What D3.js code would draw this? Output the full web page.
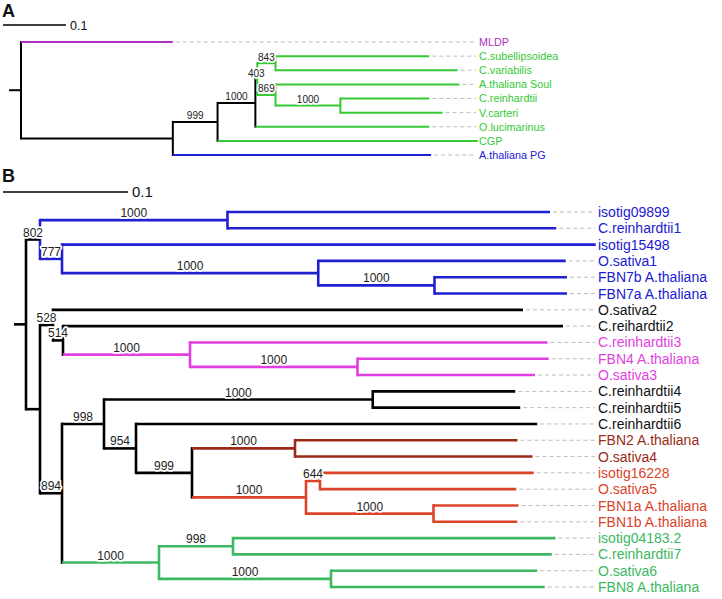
<!DOCTYPE html>
<html lang="en">
<head>
<meta charset="utf-8">
<title>Fibrillin trees</title>
<style>
    body { margin: 0; background: #fff; }
    svg { display: block; font-family: "Liberation Sans", Arial, sans-serif; }
    .dash { stroke: #bdbdbd; stroke-width: 1; stroke-dasharray: 4,3; fill: none; }
    .support { fill: #222; stroke: #fff; stroke-width: 3.5px; stroke-linejoin: round; paint-order: stroke; text-anchor: middle; }
</style>
</head>
<body>
<svg id="chart" width="722" height="599"></svg>
<script src="https://d3js.org/d3.v7.min.js"></script>
<script>
// ---- panel A: node id, parent, branch length, bootstrap (listed top to bottom)
const idA = ["rootA", "MLDP", "a1", "a999", "A.thaliana PG", "a1000", "CGP", "a403", "O.lucimarinus",
    "a843", "a869", "C.subellipsoidea", "C.variabilis", "A.thaliana Soul", "a1000b", "C.reinhardtii", "V.carteri"];
const parentA = ["", "rootA", "rootA", "a1", "a1", "a999", "a999", "a1000", "a1000",
    "a403", "a403", "a843", "a843", "a869", "a869", "a1000b", "a1000b"];
const lengthA = [0, 0.241, 0.241, 0.071, 0.410, 0.060, 0.413, 0.003, 0.276,
    0.029, 0.029, 0.244, 0.289, 0.292, 0.103, 0.141, 0.162];
const supportA = [null, null, null, 999, null, 1000, null, 403, null,
    843, 869, null, null, null, 1000, null, null];

// ---- panel B
const idB = ["rootB", "b802", "bX", "b1000a", "b777", "isotig09899", "C.reinhardtii1", "isotig15498", "b1000b",
    "O.sativa1", "b1000c", "FBN7b A.thaliana", "FBN7a A.thaliana", "b528", "b894", "O.sativa2", "b514",
    "C.reihardtii2", "b1000d", "C.reinhardtii3", "b1000e", "FBN4 A.thaliana", "O.sativa3", "b998a", "b1000j",
    "b1000f", "b954", "C.reinhardtii4", "C.reinhardtii5", "C.reinhardtii6", "b999", "b1000g", "b1000h",
    "FBN2 A.thaliana", "O.sativa4", "b644", "b1000i", "isotig16228", "O.sativa5", "FBN1a A.thaliana",
    "FBN1b A.thaliana", "b998b", "b1000k", "isotig04183.2", "C.reinhardtii7", "O.sativa6", "FBN8 A.thaliana"];
const parentB = ["", "rootB", "rootB", "b802", "b802", "b1000a", "b1000a", "b777", "b777",
    "b1000b", "b1000b", "b1000c", "b1000c", "bX", "bX", "b528", "b528",
    "b514", "b514", "b1000d", "b1000d", "b1000e", "b1000e", "b894", "b894",
    "b998a", "b998a", "b1000f", "b1000f", "b954", "b954", "b999", "b999",
    "b1000g", "b1000g", "b1000h", "b1000h", "b644", "b644", "b1000i",
    "b1000i", "b1000j", "b1000j", "b998b", "b998b", "b1000k", "b1000k"];
const lengthB = [0, 0.0112, 0.0112, 0.150, 0.0176, 0.258, 0.263, 0.427, 0.205,
    0.198, 0.093, 0.106, 0.106, 0.0104, 0.0176, 0.376, 0.008,
    0.400, 0.1016, 0.286, 0.134, 0.153, 0.142, 0.0336, 0.0776,
    0.215, 0.0256, 0.114, 0.118, 0.321, 0.0448, 0.0824, 0.0912,
    0.178, 0.190, 0.0112, 0.102, 0.171, 0.157, 0.068,
    0.067, 0.0592, 0.1376, 0.258, 0.255, 0.165, 0.171];
const supportB = [null, 802, null, 1000, 777, null, null, null, 1000,
    null, 1000, null, null, 528, 894, null, 514,
    null, 1000, null, 1000, null, null, 998, 1000,
    1000, 954, null, null, null, 999, 1000, 1000,
    null, null, 644, 1000, null, null, null,
    null, 998, 1000, null, null, null, null];

const blue = "#2020d2", purple = "#b02fc0", greenA = "#36c936", pink = "#e23fe2",
    darkRed = "#9c2a18", red = "#dc442a", greenB = "#3cb862";
// clade colours, inherited downwards
const colorA = {"MLDP": purple, "a403": greenA, "O.lucimarinus": greenA, "CGP": greenA, "A.thaliana PG": blue};
const colorB = {"b1000a": blue, "b777": blue, "b1000d": pink, "b1000g": darkRed, "b1000h": red, "b1000j": greenB};
const vertColorB = {"b802": blue};

const svg = d3.select("#chart");

function drawTree(ids, parents, lengths, supports, opt)
{
    const rows = ids.map((id, i) => ({id: id, parent: parents[i], len: lengths[i], sup: supports[i]}));
    const root = d3.stratify().id(d => d.id).parentId(d => d.parent || null)(rows);
    root.eachBefore(d =>
    {
        d.dist = d.parent ? d.parent.dist + d.data.len : 0;
        d.color = opt.colors[d.id] || (d.parent ? d.parent.color : "#000");
    });

    const x = d3.scaleLinear().domain([0, 0.1]).range([opt.rootX, opt.rootX + opt.unit]);
    const leaves = root.leaves();
    const y = d3.scalePoint().domain(leaves.map(d => d.id)).range(opt.yRange);
    root.eachAfter(d =>
    {
        d.y = d.children ? (d.children[0].y + d.children[d.children.length - 1].y) / 2 : y(d.id);
    });

    const g = svg.append("g");

    // dashed leaders to the labels
    g.selectAll("line.dash").data(leaves.filter(d => opt.labelX - x(d.dist) > 8))
        .join("line").attr("class", "dash")
        .attr("x1", d => x(d.dist) + 3).attr("x2", opt.labelX - 3)
        .attr("y1", d => d.y).attr("y2", d => d.y);

    // root stub
    g.append("line").attr("x1", x(0) - 12).attr("x2", x(0)).attr("y1", root.y).attr("y2", root.y)
        .attr("stroke", "#000").attr("stroke-width", opt.lw);

    // vertical connectors
    g.selectAll("line.v").data(root.descendants().filter(d => d.children))
        .join("line").attr("class", "v")
        .attr("x1", d => x(d.dist)).attr("x2", d => x(d.dist))
        .attr("y1", d => d.children[0].y).attr("y2", d => d.children[d.children.length - 1].y)
        .attr("stroke", d => (opt.vert && opt.vert[d.id]) || d.color)
        .attr("stroke-width", opt.lw).attr("stroke-linecap", "square");

    // horizontal branches
    g.selectAll("line.h").data(root.descendants().filter(d => d.parent))
        .join("line").attr("class", "h")
        .attr("x1", d => x(d.parent.dist)).attr("x2", d => x(d.dist))
        .attr("y1", d => d.y).attr("y2", d => d.y)
        .attr("stroke", d => d.color).attr("stroke-width", opt.lw);

    // bootstrap values
    g.selectAll("text.support").data(root.descendants().filter(d => d.data.sup != null))
        .join("text").attr("class", "support")
        .attr("x", d => (x(d.parent.dist) + x(d.dist)) / 2)
        .attr("y", d => d.y - opt.supGap)
        .attr("font-size", opt.supSize)
        .text(d => d.data.sup);

    // leaf names
    g.selectAll("text.leaf").data(leaves)
        .join("text").attr("class", "leaf")
        .attr("x", opt.labelX).attr("y", d => d.y).attr("dy", "0.36em")
        .attr("font-size", opt.leafSize)
        .attr("fill", d => d.color === "#000" ? "#111" : d.color)
        .text(d => d.id);

    // scale bar
    const sb = d3.scaleLinear().domain([0, 0.1]).range([3, 3 + opt.unit]);
    g.append("line").attr("x1", sb(0)).attr("x2", sb(0.1)).attr("y1", opt.barY).attr("y2", opt.barY)
        .attr("stroke", "#000").attr("stroke-width", opt.barW);
    g.append("text").attr("x", sb(0.1) + 4).attr("y", opt.barY).attr("dy", "0.36em")
        .attr("font-size", opt.barSize).attr("fill", "#111").text("0.1");

    g.append("text").attr("x", 2).attr("y", opt.letterY).attr("font-size", 18)
        .attr("font-weight", "bold").attr("fill", "#111").text(opt.letter);
}

drawTree(idA, parentA, lengthA, supportA, {
    rootX: 21, unit: 63, yRange: [42, 155], labelX: 479, colors: colorA,
    lw: 2, supSize: 10, supGap: 2.5, leafSize: 10.8,
    barY: 25, barW: 1.3, barSize: 12.5, letter: "A", letterY: 17
});

drawTree(idB, parentB, lengthB, supportB, {
    rootX: 26, unit: 125, yRange: [212, 587], labelX: 598, colors: colorB, vert: vertColorB,
    lw: 2.6, supSize: 12, supGap: 3, leafSize: 14,
    barY: 192, barW: 1.6, barSize: 15, letter: "B", letterY: 182
});
</script>
</body>
</html>
